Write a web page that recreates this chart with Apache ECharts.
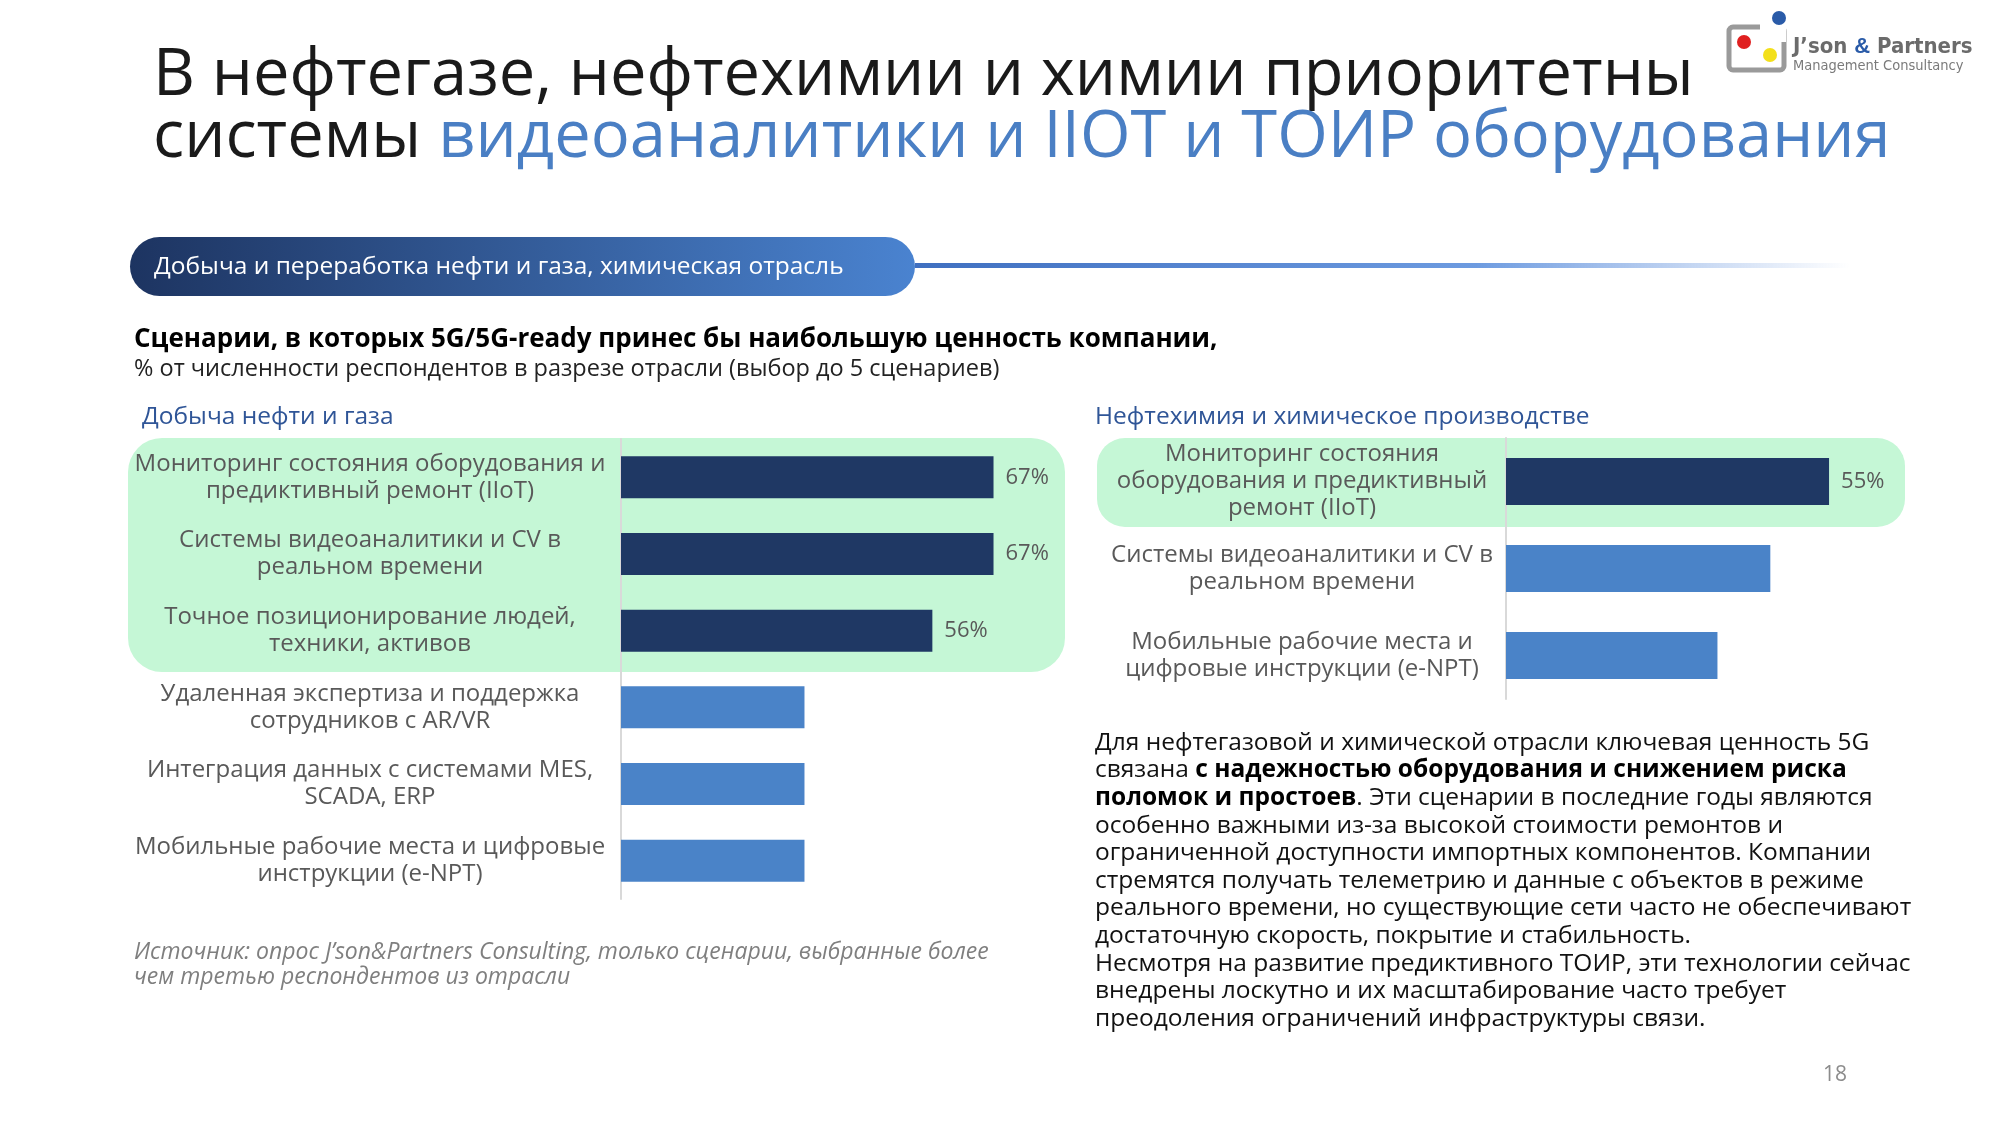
<!DOCTYPE html>
<html><head><meta charset="utf-8">
<script src="https://cdn.jsdelivr.net/npm/echarts@6/dist/echarts.min.js"></script>
<style>html,body{margin:0;padding:0;background:#fff}#c{width:2000px;height:1125px}</style>
</head><body><div id="c"></div>
<script>
const leftCategories = ["Мониторинг состояния оборудования и\nпредиктивный ремонт (IIoT)","Системы видеоаналитики и CV в\nреальном времени","Точное позиционирование людей,\nтехники, активов","Удаленная экспертиза и поддержка\nсотрудников с AR/VR","Интеграция данных с системами MES,\nSCADA, ERP","Мобильные рабочие места и цифровые\nинструкции (e-NPT)"];
const leftValues = [67,67,56,33,33,33];
const leftHighlighted = [true,true,true,false,false,false];
const rightCategories = ["Мониторинг состояния\nоборудования и предиктивный\nремонт (IIoT)","Системы видеоаналитики и CV в\nреальном времени","Мобильные рабочие места и\nцифровые инструкции (e-NPT)"];
const rightValues = [55,45,36];
const rightHighlighted = [true,false,false];

const F = '"Open Sans", "Noto Sans", sans-serif';
const DARK = '#1f3864', LIGHT = '#4a83c8', GREY = '#595959';
const chart = echarts.init(document.getElementById('c'));

function mk(vals, hl){
  return vals.map((v,i)=>({value:v,
    itemStyle:{color: hl[i]?DARK:LIGHT},
    label:{show:hl[i],position:'right',distance:12,formatter:'{c}%',fontSize:22,color:GREY,fontFamily:F}}));
}
const para = [
"Для нефтегазовой и химической отрасли ключевая ценность 5G",
"связана {b|с надежностью оборудования и снижением риска}",
"{b|поломок и простоев}. Эти сценарии в последние годы являются",
"особенно важными из-за высокой стоимости ремонтов и",
"ограниченной доступности импортных компонентов. Компании",
"стремятся получать телеметрию и данные с объектов в режиме",
"реального времени, но существующие сети часто не обеспечивают",
"достаточную скорость, покрытие и стабильность.",
"Несмотря на развитие предиктивного ТОИР, эти технологии сейчас",
"внедрены лоскутно и их масштабирование часто требует",
"преодоления ограничений инфраструктуры связи."].join('\n');

chart.setOption({
  animation:false,
  grid:[{left:621,width:556,top:439,height:460},{left:1506,width:400,top:438,height:261}],
  xAxis:[{gridIndex:0,type:'value',min:0,max:100,show:false},{gridIndex:1,type:'value',min:0,max:68.1,show:false}],
  yAxis:[0,1].map(g=>({gridIndex:g,type:'category',inverse:true,data:g?rightCategories:leftCategories,
    axisTick:{show:false},axisLine:{show:true,lineStyle:{color:'#d9d9d9',width:2}},
    axisLabel:{fontSize:24,lineHeight:27,color:GREY,fontFamily:F,align:'center',margin:g?204:251}})),
  series:[
    {type:'bar',xAxisIndex:0,yAxisIndex:0,data:mk(leftValues,leftHighlighted),barWidth:42,z:3},
    {type:'bar',xAxisIndex:1,yAxisIndex:1,data:mk(rightValues,rightHighlighted),barWidth:47,z:3}
  ],
  graphic:[
    {type:'rect',z:-10,shape:{x:128,y:438,width:937,height:234,r:34},style:{fill:'#c5f7d6'}},
    {type:'rect',z:-10,shape:{x:1097,y:438,width:808,height:89,r:28},style:{fill:'#c5f7d6'}},
    {type:'text',left:153,top:44,style:{text:'В нефтегазе, нефтехимии и химии приоритетны',font:'400 65px '+F,fill:'#1a1a1a'}},
    {type:'text',left:153,top:106,style:{text:'системы {b|видеоаналитики и IIOT и ТОИР оборудования}',font:'400 65px '+F,fill:'#1a1a1a',
      rich:{b:{fontSize:65,fontFamily:F,fill:'#4a7fc4',color:'#4a7fc4'}}}},
    {type:'rect',shape:{x:915,y:263,width:935,height:5},style:{fill:new echarts.graphic.LinearGradient(0,0,1,0,[{offset:0,color:'#3f6fc0'},{offset:0.6,color:'#6d9be0'},{offset:1,color:'rgba(120,160,225,0)'}])}},
    {type:'rect',shape:{x:130,y:237,width:785,height:59,r:29.5},style:{fill:new echarts.graphic.LinearGradient(0,0,1,0,[{offset:0,color:'#1d3461'},{offset:1,color:'#4a83d0'}])}},
    {type:'text',left:154,top:255,style:{text:'Добыча и переработка нефти и газа, химическая отрасль',font:'400 24.5px '+F,fill:'#fff'}},
    {type:'text',left:134,top:327,style:{text:'Сценарии, в которых 5G/5G-ready принес бы наибольшую ценность компании,',font:'700 26px '+F,fill:'#000'}},
    {type:'text',left:134,top:357,style:{text:'% от численности респондентов в разрезе отрасли (выбор до 5 сценариев)',font:'400 23.5px '+F,fill:'#222'}},
    {type:'text',left:142,top:405,style:{text:'Добыча нефти и газа',font:'400 24.5px '+F,fill:'#2f5597'}},
    {type:'text',left:1095,top:405,style:{text:'Нефтехимия и химическое производстве',font:'400 24.5px '+F,fill:'#2f5597'}},
    {type:'text',left:1095,top:729,style:{text:para,font:'400 24.5px '+F,fill:'#111',lineHeight:27.6,
      rich:{b:{fontWeight:700,fontSize:24.5,fontFamily:F,fill:'#000',lineHeight:27.6}}}},
    {type:'text',left:134,top:940,style:{text:'Источник: опрос J’son&Partners Consulting, только сценарии, выбранные более\nчем третью респондентов из отрасли',font:'italic 400 23px '+F,fill:'#7f7f7f',lineHeight:25}},
    {type:'text',left:1823,top:1065,style:{text:'18',font:'400 21px '+F,fill:'#8c8c8c'}},
    // logo
    {type:'rect',shape:{x:1729,y:27,width:55,height:43,r:4},style:{fill:'none',stroke:'#9a9a9a',lineWidth:5}},
    {type:'rect',shape:{x:1760,y:20,width:26,height:22},style:{fill:'#fff'}},
    {type:'circle',shape:{cx:1779,cy:18,r:7},style:{fill:'#2a5ba8'}},
    {type:'circle',shape:{cx:1744,cy:42,r:7},style:{fill:'#e02020'}},
    {type:'circle',shape:{cx:1770,cy:55,r:7},style:{fill:'#f3e01a'}},
    {type:'text',left:1793,top:36,style:{text:'J’son {a|&} Partners',font:'700 22px "DejaVu Sans Condensed", sans-serif',fill:'#6b6b6b',rich:{a:{fontSize:22,fontWeight:700,fill:'#2a5ba8'}}}},
    {type:'text',left:1793,top:59,style:{text:'Management Consultancy',font:'400 14.5px "DejaVu Sans Condensed", sans-serif',fill:'#7a7a7a'}}
  ]
});
</script></body></html>
